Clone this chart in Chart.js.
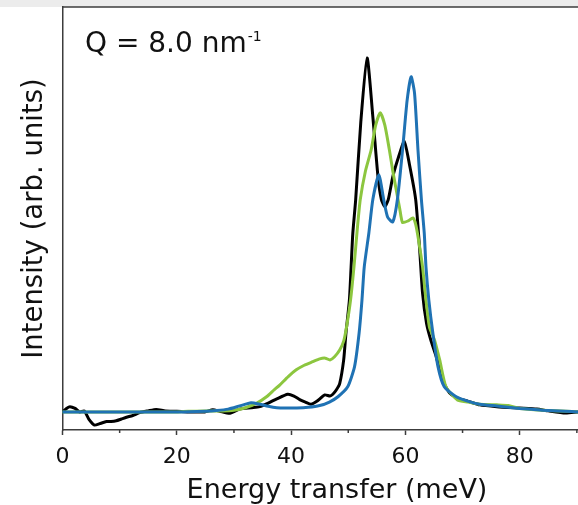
<!DOCTYPE html>
<html>
<head>
<meta charset="utf-8">
<script src="https://cdn.jsdelivr.net/npm/chart.js@4"></script>
<style>
  html, body { margin: 0; padding: 0; background: #fff; }
  #wrap { width: 578px; height: 505px; position: relative; }
</style>
</head>
<body>
<div id="wrap"><canvas id="chart"></canvas></div>
<script>
// ===== data =====

const xTickValues = [0, 20, 40, 60, 80];
const xMinorTicks = [10, 30, 50, 70, 90];

const blackEnergy = [0, 0.7, 1.3, 2.2, 3.0, 3.8, 4.6, 5.6, 6.5, 7.7, 8.5, 9.4, 10.3, 11.2, 12.3, 13.5, 15, 16.4, 18, 20, 22, 24.9, 26.3, 27.5, 29.3, 31, 33, 34.5, 36, 37.5, 39.4, 40.5, 41.5, 42.5, 43.5, 44.5, 45.9, 46.8, 47.3, 47.9, 48.5, 49.2, 49.6, 50.2, 50.5, 50.8, 51.3, 52.2, 53.3, 54.3, 55.2, 55.8, 56.4, 57.0, 57.8, 58.8, 59.8, 60.7, 61.8, 62.5, 63.0, 63.7, 64.5, 65.4, 66.5, 67.7, 69, 71, 73, 76, 80, 83, 85, 88, 90.2];
const blackIntensity = [0, 0.01, 0.015, 0.01, 0, 0.003, -0.02, -0.037, -0.033, -0.027, -0.027, -0.025, -0.02, -0.015, -0.01, -0.002, 0.003, 0.007, 0.003, 0.002, 0, 0, 0.006, 0.002, -0.004, 0.008, 0.012, 0.015, 0.025, 0.037, 0.05, 0.045, 0.035, 0.028, 0.022, 0.03, 0.048, 0.045, 0.05, 0.062, 0.08, 0.147, 0.223, 0.316, 0.41, 0.505, 0.6, 0.82, 1.0, 0.834, 0.665, 0.6, 0.58, 0.6, 0.665, 0.72, 0.764, 0.7, 0.6, 0.458, 0.336, 0.25, 0.2, 0.156, 0.09, 0.054, 0.04, 0.03, 0.02, 0.015, 0.011, 0.008, 0.003, -0.003, 0];

const greenEnergy = [0, 10, 20, 22, 25, 28, 30, 32, 34, 35.7, 37, 38, 39.5, 40.9, 42.3, 43.8, 45, 46, 46.8, 47.6, 48.5, 49.2, 49.7, 50.4, 51.0, 51.6, 52.1, 53.0, 54.0, 54.8, 55.6, 56.4, 57.2, 57.8, 58.4, 59.0, 59.5, 60.5, 61.3, 61.8, 62.3, 63.0, 63.6, 64.2, 65.1, 66.0, 67.1, 69.1, 71, 73, 76, 78, 80, 84, 88, 90.2];
const greenIntensity = [0, 0, 0, 0.002, 0.003, 0.003, 0.005, 0.012, 0.025, 0.043, 0.062, 0.076, 0.1, 0.119, 0.132, 0.142, 0.15, 0.152, 0.147, 0.156, 0.175, 0.2, 0.24, 0.316, 0.41, 0.52, 0.6, 0.68, 0.74, 0.81, 0.845, 0.81, 0.74, 0.68, 0.627, 0.575, 0.535, 0.54, 0.548, 0.53, 0.486, 0.41, 0.316, 0.24, 0.203, 0.147, 0.071, 0.034, 0.028, 0.022, 0.02, 0.018, 0.01, 0.005, 0.002, 0];

const blueEnergy = [0, 10, 20, 25, 27, 29, 31, 33, 34.5, 36, 37.5, 39.2, 41, 43, 45, 46.7, 48.2, 49.9, 51.1, 51.9, 52.4, 52.8, 53.6, 54.3, 55.35, 56.2, 56.9, 57.8, 58.6, 59.5, 60.3, 61.0, 61.6, 62.2, 62.8, 63.3, 63.6, 64.1, 64.8, 65.7, 66.8, 68.9, 71, 73, 76, 80, 84, 88, 90.2];
const blueIntensity = [0, 0, 0, 0.002, 0.004, 0.008, 0.017, 0.026, 0.022, 0.016, 0.012, 0.011, 0.011, 0.013, 0.018, 0.028, 0.043, 0.071, 0.128, 0.223, 0.316, 0.41, 0.505, 0.6, 0.67, 0.6, 0.55, 0.537, 0.6, 0.74, 0.88, 0.947, 0.9, 0.74, 0.6, 0.505, 0.41, 0.316, 0.223, 0.128, 0.071, 0.043, 0.03, 0.022, 0.017, 0.01, 0.005, 0.002, 0];

// ===== helpers =====

function toPoints(xs, ys) {
    return xs.map((x, i) => ({ x: x, y: ys[i] }));
}

const axisColor = '#3c3c3c';
const textColor = '#111';
const fontFamily = '"DejaVu Sans", Verdana, sans-serif';

// ===== plugins =====

const frame = {
    id: 'frame',
    beforeDraw(chart) {
        const ctx = chart.ctx;
        ctx.save();
        ctx.fillStyle = '#fff';
        ctx.fillRect(0, 0, chart.width, chart.height);
        ctx.fillStyle = '#ececec';
        ctx.fillRect(0, 0, chart.width, chart.chartArea.top);
        ctx.restore();
    },
    afterDraw(chart) {
        const ctx = chart.ctx;
        const area = chart.chartArea;
        const xs = chart.scales.x;
        ctx.save();
        ctx.strokeStyle = axisColor;
        ctx.lineWidth = 1.5;
        // top border
        ctx.beginPath();
        ctx.moveTo(area.left, area.top);
        ctx.lineTo(area.right, area.top);
        ctx.stroke();
        // minor ticks
        xMinorTicks.forEach(v => {
            const px = xs.getPixelForValue(v);
            ctx.beginPath();
            ctx.moveTo(px, area.bottom);
            ctx.lineTo(px, area.bottom + 3);
            ctx.stroke();
        });
        ctx.fillStyle = textColor;
        // x title (axis runs past the right edge, so it sits right of centre)
        ctx.font = '27px ' + fontFamily;
        ctx.textAlign = 'center';
        ctx.textBaseline = 'middle';
        ctx.fillText('Energy transfer (meV)', 337, 491);
        // Q label
        ctx.textAlign = 'left';
        ctx.textBaseline = 'alphabetic';
        ctx.font = '28px ' + fontFamily;
        const main = 'Q = 8.0 nm';
        ctx.fillText(main, 85, 52);
        const w = ctx.measureText(main).width;
        ctx.font = '14px ' + fontFamily;
        ctx.fillText('-1', 85 + w + 1, 41);
        ctx.restore();
    }
};

Chart.register(frame);

// ===== chart =====

new Chart(document.getElementById('chart'), {
    type: 'line',
    data: {
        datasets: [
            {
                label: 'black',
                data: toPoints(blackEnergy, blackIntensity),
                borderColor: '#000000',
                order: 3
            },
            {
                label: 'green',
                data: toPoints(greenEnergy, greenIntensity),
                borderColor: '#8cc63f',
                order: 2
            },
            {
                label: 'blue',
                data: toPoints(blueEnergy, blueIntensity),
                borderColor: '#1f72b4',
                order: 1
            }
        ]
    },
    options: {
        responsive: true,
        maintainAspectRatio: false,
        animation: false,
        events: [],
        layout: { padding: { top: 7, right: 0, left: 0, bottom: 0 } },
        elements: {
            point: { radius: 0 },
            line: { borderWidth: 3, tension: 0.2, borderJoinStyle: 'round', borderCapStyle: 'round' }
        },
        plugins: {
            legend: { display: false },
            tooltip: { enabled: false }
        },
        scales: {
            x: {
                type: 'linear',
                min: 0,
                max: 90.2,
                afterBuildTicks(scale) {
                    scale.ticks = xTickValues.map(v => ({ value: v }));
                },
                afterFit(scale) { scale.height = 75; },
                border: { display: true, color: axisColor, width: 1.5 },
                grid: {
                    drawOnChartArea: false,
                    drawTicks: true,
                    tickLength: 5,
                    tickColor: axisColor,
                    tickWidth: 1.5
                },
                ticks: {
                    color: textColor,
                    padding: 11,
                    maxRotation: 0,
                    font: { family: fontFamily, size: 22, lineHeight: 1 }
                },
                title: { display: false }
            },
            y: {
                type: 'linear',
                min: -0.051,
                max: 1.144,
                afterFit(scale) { scale.width = 62.5; },
                border: { display: true, color: axisColor, width: 1.5 },
                grid: { display: false },
                ticks: { display: false },
                title: {
                    display: true,
                    text: 'Intensity (arb. units)',
                    color: textColor,
                    padding: { top: 21, bottom: 0 },
                    font: { family: fontFamily, size: 27.5, lineHeight: 1 }
                }
            }
        }
    }
});
</script>
</body>
</html>
